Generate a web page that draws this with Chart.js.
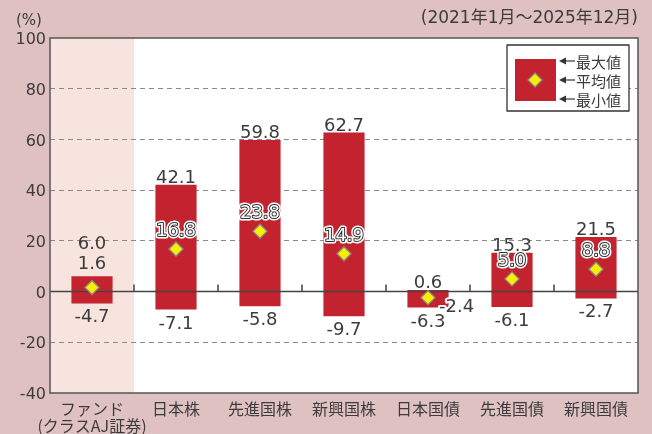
<!DOCTYPE html>
<html>
<head>
<meta charset="utf-8">
<script src="https://cdn.jsdelivr.net/npm/chart.js@4.4.1/dist/chart.umd.min.js"></script>
<style>
  html, body { margin: 0; padding: 0; background: #dfc1c1; }
</style>
</head>
<body>
<canvas id="myChart" width="652" height="434"></canvas>
<script>
const categories = [['ファンド', '(クラスAJ証券)'], '日本株', '先進国株', '新興国株', '日本国債', '先進国債', '新興国債'];
const maxValues = [6.0, 42.1, 59.8, 62.7, 0.6, 15.3, 21.5];
const avgValues = [1.6, 16.8, 23.8, 14.9, -2.4, 5.0, 8.8];
const minValues = [-4.7, -7.1, -5.8, -9.7, -6.3, -6.1, -2.7];
const yMin = -40, yMax = 100, yStep = 20;

const NUM_FONT = '"DejaVu Sans", "Noto Sans CJK JP", sans-serif';
const JP_FONT = '"Noto Sans CJK JP", sans-serif';
const TEXT = '#3c3c3c';
const BAR_RED = '#c3222f';

const decor = {
  id: 'decor',
  beforeDraw(chart) {
    const { ctx, chartArea: a, scales: { x } } = chart;
    ctx.save();
    ctx.fillStyle = '#dfc1c1';
    ctx.fillRect(0, 0, chart.width, chart.height);
    ctx.fillStyle = '#ffffff';
    ctx.fillRect(a.left, a.top, a.right - a.left, a.bottom - a.top);
    // shaded fund column
    const half = (x.getPixelForValue(1) - x.getPixelForValue(0)) / 2;
    ctx.fillStyle = '#f7e4de';
    ctx.fillRect(a.left, a.top, x.getPixelForValue(0) + half - a.left, a.bottom - a.top);

    ctx.fillStyle = TEXT;
    ctx.textBaseline = 'middle';
    ctx.font = '15px ' + NUM_FONT;
    ctx.textAlign = 'left';
    ctx.fillText('(%)', 16, 21);
    ctx.font = '17px ' + NUM_FONT;
    ctx.textAlign = 'right';
    ctx.fillText('(2021年1月〜2025年12月)', 638, 19);
    ctx.restore();
  },
  afterDatasetDraw(chart, args) {
    if (args.meta.type !== 'bar') return;
    const { ctx, chartArea: a, scales: { x, y } } = chart;
    const y0 = y.getPixelForValue(0);
    ctx.save();
    ctx.strokeStyle = '#444';
    ctx.lineWidth = 1.5;
    ctx.beginPath();
    ctx.moveTo(a.left, y0);
    ctx.lineTo(a.right, y0);
    const half = (x.getPixelForValue(1) - x.getPixelForValue(0)) / 2;
    for (let i = 0; i < categories.length - 1; i++) {
      const bx = x.getPixelForValue(i) + half;
      ctx.moveTo(bx, y0);
      ctx.lineTo(bx, y0 - 7);
    }
    ctx.stroke();
    ctx.restore();
  },
  afterDatasetsDraw(chart) {
    const { ctx, chartArea: a, scales: { x, y } } = chart;
    ctx.save();
    // frame
    ctx.strokeStyle = '#555';
    ctx.lineWidth = 1.5;
    ctx.strokeRect(a.left, a.top, a.right - a.left, a.bottom - a.top);

    // value labels
    ctx.font = '18px ' + NUM_FONT;
    ctx.textBaseline = 'alphabetic';
    ctx.lineJoin = 'round';
    for (let i = 0; i < categories.length; i++) {
      const cx = x.getPixelForValue(i);
      const top = y.getPixelForValue(maxValues[i]);
      const bot = y.getPixelForValue(minValues[i]);
      const ay = y.getPixelForValue(avgValues[i]);
      ctx.textAlign = 'center';
      ctx.fillStyle = TEXT;
      if (i === 0) {
        ctx.fillText(maxValues[i].toFixed(1), cx, top - 27);
        ctx.fillText(avgValues[i].toFixed(1), cx, top - 7);
      } else {
        ctx.fillText(maxValues[i].toFixed(1), cx, top - 2);
      }
      ctx.fillText(minValues[i].toFixed(1), cx, bot + 19);

      if (i === 0) continue;
      if (i === 4) {
        ctx.textAlign = 'left';
        ctx.strokeStyle = '#fff';
        ctx.lineWidth = 4;
        ctx.strokeText(avgValues[i].toFixed(1), cx + 11, ay + 14);
        ctx.fillStyle = TEXT;
        ctx.fillText(avgValues[i].toFixed(1), cx + 11, ay + 14);
        continue;
      }
      const t = avgValues[i].toFixed(1);
      ctx.strokeStyle = '#fff';
      ctx.lineWidth = 5;
      ctx.strokeText(t, cx, ay - 13);
      ctx.strokeStyle = '#333';
      ctx.lineWidth = 2;
      ctx.strokeText(t, cx, ay - 13);
      ctx.fillStyle = '#fff';
      ctx.fillText(t, cx, ay - 13);
    }

    // legend box
    ctx.fillStyle = '#fff';
    ctx.fillRect(507, 45, 122, 66);
    ctx.strokeStyle = '#333';
    ctx.lineWidth = 1.3;
    ctx.strokeRect(507, 45, 122, 66);
    ctx.fillStyle = BAR_RED;
    ctx.fillRect(515, 59, 41, 42);
    ctx.beginPath();
    ctx.moveTo(535, 73); ctx.lineTo(542, 80); ctx.lineTo(535, 87); ctx.lineTo(528, 80); ctx.closePath();
    ctx.fillStyle = '#f8ef00';
    ctx.fill();
    ctx.strokeStyle = '#8a8a8a';
    ctx.lineWidth = 1.2;
    ctx.stroke();
    const items = [['最大値', 61], ['平均値', 80], ['最小値', 99]];
    ctx.font = '15px ' + JP_FONT;
    ctx.textAlign = 'left';
    ctx.textBaseline = 'middle';
    items.forEach(([label, ly]) => {
      ctx.strokeStyle = '#333';
      ctx.lineWidth = 1.2;
      ctx.beginPath();
      ctx.moveTo(562, ly); ctx.lineTo(575, ly);
      ctx.stroke();
      ctx.fillStyle = '#333';
      ctx.beginPath();
      ctx.moveTo(559, ly); ctx.lineTo(566, ly - 3.5); ctx.lineTo(566, ly + 3.5); ctx.closePath();
      ctx.fill();
      ctx.fillStyle = TEXT;
      ctx.fillText(label, 576, ly + 1);
    });
    ctx.restore();
  }
};

new Chart(document.getElementById('myChart'), {
  type: 'bar',
  data: {
    labels: categories,
    datasets: [
      {
        type: 'bar',
        data: maxValues.map((v, i) => [minValues[i], v]),
        backgroundColor: BAR_RED,
        borderWidth: 0,
        barPercentage: 0.49,
        categoryPercentage: 1,
        order: 2
      },
      {
        type: 'line',
        data: avgValues,
        showLine: false,
        pointStyle: 'rectRot',
        pointRadius: 7,
        pointBackgroundColor: '#f8ef00',
        pointBorderColor: '#8a8a8a',
        pointBorderWidth: 1.3,
        order: 1
      }
    ]
  },
  options: {
    responsive: false,
    animation: false,
    layout: { padding: { top: 38, right: 14, left: 0, bottom: 0 } },
    scales: {
      x: {
        grid: { display: false, drawTicks: false },
        border: { display: false },
        ticks: {
          color: TEXT,
          padding: 8,
          maxRotation: 0,
          autoSkip: false,
          font: { family: JP_FONT, size: 16, lineHeight: 1.05 }
        },
        afterFit(scale) { scale.height = 41; }
      },
      y: {
        min: yMin,
        max: yMax,
        ticks: {
          stepSize: yStep,
          color: TEXT,
          padding: 4,
          labelOffset: 2,
          font: { family: NUM_FONT, size: 16 }
        },
        grid: {
          drawTicks: false,
          lineWidth: 1,
          color: (c) => (c.tick && (c.tick.value === 0 || c.tick.value === yMax || c.tick.value === yMin)) ? 'rgba(0,0,0,0)' : '#8a8a8a'
        },
        border: { display: false, dash: [5, 4] },
        afterFit(scale) { scale.width = 50; }
      }
    },
    plugins: {
      legend: { display: false },
      tooltip: { enabled: false }
    }
  },
  plugins: [decor]
});
</script>
</body>
</html>
